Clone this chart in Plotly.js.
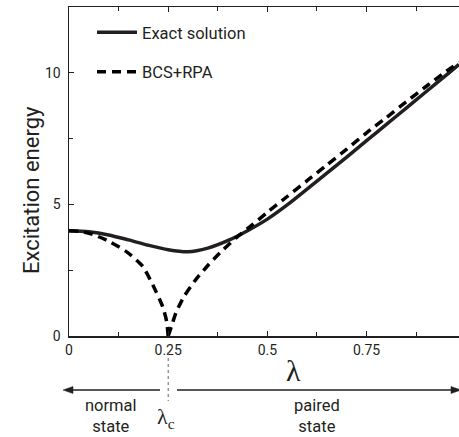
<!DOCTYPE html>
<html>
<head>
<meta charset="utf-8">
<script src="https://cdn.plot.ly/plotly-3.0.1.min.js"></script>
<style>
  html, body { margin: 0; padding: 0; background: #fff; overflow: hidden; }
  #chart { width: 459px; height: 437px; }
</style>
</head>
<body>
<div id="chart"></div>
<script>
// ---- data ----
const lambdaExact = [0, 0.05, 0.1, 0.15, 0.2, 0.25, 0.3, 0.35, 0.4, 0.45, 0.5, 0.55, 0.6, 0.65, 0.7, 0.75, 0.8, 0.85, 0.9, 0.95, 0.983];
const energyExact = [4.0, 3.96, 3.84, 3.65, 3.45, 3.28, 3.2, 3.34, 3.62, 4.0, 4.44, 4.98, 5.58, 6.19, 6.8, 7.42, 8.04, 8.66, 9.28, 9.9, 10.32];

const lambdaRpaNormal = [0, 0.03, 0.06, 0.103, 0.148, 0.186, 0.211, 0.236, 0.246, 0.25];
const energyRpaNormal = [4.0, 3.97, 3.86, 3.58, 3.17, 2.64, 1.95, 1.12, 0.56, 0];

const lambdaRpaPaired = [0.25, 0.26, 0.27, 0.29, 0.32, 0.35, 0.38, 0.42, 0.46, 0.5, 0.55, 0.6, 0.65, 0.7, 0.75, 0.8, 0.85, 0.9, 0.95, 0.983];
const energyRpaPaired = [0, 0.45, 0.9, 1.5, 2.15, 2.68, 3.15, 3.72, 4.2, 4.7, 5.3, 5.9, 6.5, 7.1, 7.72, 8.3, 8.9, 9.48, 10.05, 10.4];

const xTickVals = [0, 0.25, 0.5, 0.75];
const xTickText = ['0', '0.25', '0.5', '0.75'];
const yTickVals = [0, 5, 10];
const yTickText = ['0', '5', '10'];

const seriesNames = ['Exact solution', 'BCS+RPA'];
const lambdaC = 0.25;

// ---- styles ----
const ink = '#231f20';
const sans = 'Roboto, "DejaVu Sans", sans-serif';
const serif = '"Liberation Serif", "DejaVu Serif", serif';

const traces = [
  {
    x: lambdaExact, y: energyExact, name: seriesNames[0], mode: 'lines',
    line: { color: ink, width: 3.5, shape: 'spline', smoothing: 0.8 },
    legendgroup: 'a'
  },
  {
    x: lambdaRpaNormal, y: energyRpaNormal, name: seriesNames[1], mode: 'lines',
    line: { color: '#000', width: 3.5, dash: '9px,6px', shape: 'spline', smoothing: 0.6 },
    legendgroup: 'b'
  },
  {
    x: lambdaRpaPaired, y: energyRpaPaired, name: seriesNames[1], mode: 'lines',
    line: { color: '#000', width: 3.5, dash: '9px,6px', shape: 'spline', smoothing: 0.6 },
    legendgroup: 'b', showlegend: false
  }
];

const W = 459, H = 437, L = 69, T = 7, B = 101;
const pw = W - L, ph = H - T - B;
const px = v => (v - L) / pw;            // pixel x -> paper x
const py = v => (H - B - v) / ph;         // pixel y -> paper y

// arrows below the axis (lines + filled heads), in pixel positions converted to paper
const arrowY = 390;
function head(tipX, dir) {
  const len = 10, half = 3.5;
  const bx = tipX + dir * len;
  return 'M' + px(tipX) + ',' + py(arrowY) +
         ' L' + px(bx) + ',' + py(arrowY - half) +
         ' L' + px(bx) + ',' + py(arrowY + half) + ' Z';
}

const layout = {
  width: W, height: H,
  margin: { l: L, r: 0, t: T, b: B, pad: 0 },
  paper_bgcolor: '#fff', plot_bgcolor: '#fff',
  font: { family: sans, color: ink, size: 14 },
  showlegend: true,
  legend: {
    x: px(92), y: py(15), xanchor: 'left', yanchor: 'top',
    bgcolor: 'rgba(0,0,0,0)', borderwidth: 0,
    font: { family: sans, size: 16.5, color: ink },
    traceorder: 'grouped', tracegroupgap: 15, itemwidth: 40
  },
  xaxis: {
    range: [0, 0.983], tickvals: xTickVals, ticktext: xTickText,
    ticks: 'inside', ticklen: 5, tickwidth: 1, tickcolor: ink,
    minor: { dtick: 0.125, tick0: 0, ticks: 'inside', ticklen: 4, tickcolor: ink },
    showline: true, linecolor: ink, linewidth: 1.5, mirror: 'allticks',
    showgrid: false, zeroline: false, automargin: false,
    tickfont: { family: sans, size: 14, color: ink }, ticklabelstandoff: 1
  },
  yaxis: {
    range: [0, 12.5], tickvals: yTickVals, ticktext: yTickText,
    ticks: 'inside', ticklen: 5, tickwidth: 1, tickcolor: ink,
    minor: { dtick: 2.5, tick0: 0, ticks: 'inside', ticklen: 4, tickcolor: ink },
    showline: true, linecolor: ink, linewidth: 1.5, mirror: false,
    showgrid: false, zeroline: false, automargin: false,
    tickfont: { family: sans, size: 14, color: ink }, ticklabelstandoff: 4
  },
  shapes: [
    { type: 'line', xref: 'x', yref: 'paper', x0: lambdaC, x1: lambdaC, y0: py(352), y1: py(401),
      line: { color: '#666', width: 1, dash: 'dot' } },
    { type: 'line', xref: 'paper', yref: 'paper', x0: px(70), x1: px(160), y0: py(arrowY), y1: py(arrowY),
      line: { color: ink, width: 1.5 } },
    { type: 'line', xref: 'paper', yref: 'paper', x0: px(177), x1: px(452), y0: py(arrowY), y1: py(arrowY),
      line: { color: ink, width: 1.5 } },
    { type: 'path', xref: 'paper', yref: 'paper', path: head(63, 1),
      fillcolor: ink, line: { color: ink, width: 0.5 } },
    { type: 'path', xref: 'paper', yref: 'paper', path: head(461, -1),
      fillcolor: ink, line: { color: ink, width: 0.5 } }
  ],
  annotations: [
    { text: 'Excitation energy', xref: 'paper', yref: 'paper', x: px(31), y: py(190),
      xanchor: 'center', yanchor: 'middle',
      showarrow: false, textangle: -90, font: { family: sans, size: 22, color: ink } },
    { text: 'λ', xref: 'paper', yref: 'paper', x: px(293), y: py(370),
      xanchor: 'center', yanchor: 'middle',
      showarrow: false, font: { family: serif, size: 30, color: ink } },
    { text: 'normal<br>state', xref: 'paper', yref: 'paper', x: px(111), y: py(416),
      xanchor: 'center', yanchor: 'middle',
      showarrow: false, font: { family: sans, size: 16.5, color: ink } },
    { text: 'λ<sub>c</sub>', xref: 'paper', yref: 'paper', x: px(166), y: py(418),
      xanchor: 'center', yanchor: 'middle',
      showarrow: false, font: { family: serif, size: 22, color: ink } },
    { text: 'paired<br>state', xref: 'paper', yref: 'paper', x: px(317), y: py(416),
      xanchor: 'center', yanchor: 'middle',
      showarrow: false, font: { family: sans, size: 16.5, color: ink } }
  ]
};

Plotly.newPlot('chart', traces, layout, { staticPlot: true, displayModeBar: false });
</script>
</body>
</html>
